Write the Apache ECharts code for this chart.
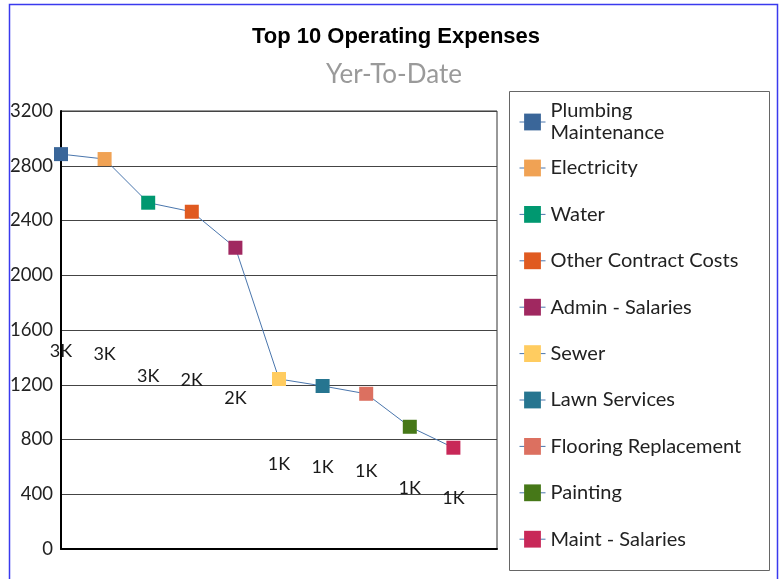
<!DOCTYPE html>
<html>
<head>
<meta charset="utf-8">
<style>
  html, body { margin: 0; padding: 0; background: #fff; }
  #chart { width: 782px; height: 579px; }
</style>
<script src="https://cdn.jsdelivr.net/npm/echarts@6/dist/echarts.min.js"></script>
</head>
<body>
<div id="chart"></div>
<script>
// Year-to-date totals for the ten largest operating expense accounts
const categories = [
  'Plumbing Maintenance', 'Electricity', 'Water', 'Other Contract Costs',
  'Admin - Salaries', 'Sewer', 'Lawn Services', 'Flooring Replacement',
  'Painting', 'Maint - Salaries'
];
const expenses = [2885, 2849, 2530, 2464, 2201, 1242, 1191, 1134, 893, 740];
const pointColors = [
  '#3a6699', '#f0a254', '#009870', '#e05a20', '#a02860',
  '#ffcc60', '#267590', '#dc7060', '#467818', '#c82858'
];
const yTicks = { min: 0, max: 3200, interval: 400 };

const FONT = 'Lato';
const LINE_BLUE = '#4a76ad';

const fmtK = v => Math.round(v / 1000) + 'K';

const series = [];

// connecting line through every account
series.push({
  type: 'line',
  name: '__trend',
  data: expenses.map((v, i) => [i, v]),
  showSymbol: false,
  lineStyle: { color: LINE_BLUE, width: 1 },
  silent: true,
  z: 2
});

// one coloured square marker per account (also feeds the legend)
categories.forEach((name, i) => {
  series.push({
    type: 'line',
    name: name,
    data: [[i, expenses[i]]],
    symbol: 'rect',
    symbolSize: 14,
    itemStyle: { color: pointColors[i] },
    lineStyle: { color: LINE_BLUE, width: 1 },
    z: 3
  });
});

// value labels sit half-way up each value
series.push({
  type: 'scatter',
  name: '__labels',
  data: expenses.map((v, i) => ({ value: [i, v / 2], text: fmtK(v) })),
  symbolSize: 2,
  itemStyle: { color: 'rgba(255,255,255,0)' },
  silent: true,
  label: {
    show: true,
    position: [1, 1],
    align: 'center',
    verticalAlign: 'middle',
    formatter: p => p.data.text,
    fontFamily: FONT,
    fontSize: 18,
    color: '#1a1a1a',
    opacity: 1
  },
  z: 4
});

const legendText = { fontFamily: FONT, fontSize: 20, color: '#222', lineHeight: 22 };
const legendItem = i => ({
  name: categories[i],
  itemStyle: { color: pointColors[i] },
  lineStyle: { color: LINE_BLUE, width: 1 }
});

const chart = echarts.init(document.getElementById('chart'), null, { renderer: 'canvas' });
chart.setOption({
  animation: false,
  backgroundColor: '#fff',
  title: [
    {
      text: 'Top 10 Operating Expenses',
      left: 396, top: 26, textAlign: 'center', padding: 0,
      textStyle: { fontFamily: 'Liberation Sans', fontWeight: 'bold', fontSize: 22, color: '#000' }
    },
    {
      text: 'Yer-To-Date',
      left: 394, top: 62, textAlign: 'center', padding: 0,
      textStyle: { fontFamily: FONT, fontWeight: 'normal', fontSize: 26, color: '#9a9a9a' }
    }
  ],
  grid: {
    left: 61, top: 111, right: 285, bottom: 30,
    show: true, borderColor: '#333', borderWidth: 1
  },
  xAxis: {
    type: 'value', min: 0, max: 10,
    axisLine: { show: true, lineStyle: { color: '#000', width: 2 } },
    axisTick: { show: false },
    axisLabel: { show: false },
    splitLine: { show: false }
  },
  yAxis: {
    type: 'value',
    min: yTicks.min, max: yTicks.max, interval: yTicks.interval,
    axisLine: { show: true, lineStyle: { color: '#000', width: 2 } },
    axisTick: { show: false },
    axisLabel: { margin: 8, fontFamily: FONT, fontSize: 18.5, color: '#222', formatter: v => String(v) },
    splitLine: { lineStyle: { color: '#444', width: 1 } }
  },
  legend: [
    {
      orient: 'vertical', left: 519, top: 100, padding: 0,
      itemWidth: 26, itemHeight: 21, itemGap: 24,
      data: [legendItem(0)],
      formatter: n => n.replace(' ', '\n'),
      textStyle: legendText,
      selectedMode: false
    },
    {
      orient: 'vertical', left: 519, top: 157, padding: 0,
      itemWidth: 26, itemHeight: 21, itemGap: 24.4,
      data: categories.slice(1).map((_, k) => legendItem(k + 1)),
      textStyle: legendText,
      selectedMode: false
    }
  ],
  graphic: [
    {
      type: 'rect', silent: true, z: 100,
      shape: { x: 9.5, y: 4.5, width: 768, height: 600 },
      style: { fill: 'none', stroke: '#3a3aee', lineWidth: 1.5 }
    },
    {
      type: 'rect', silent: true, z: 100,
      shape: { x: 509.5, y: 91.5, width: 260, height: 479 },
      style: { fill: 'none', stroke: '#666', lineWidth: 1 }
    }
  ],
  series: series
});
</script>
</body>
</html>
